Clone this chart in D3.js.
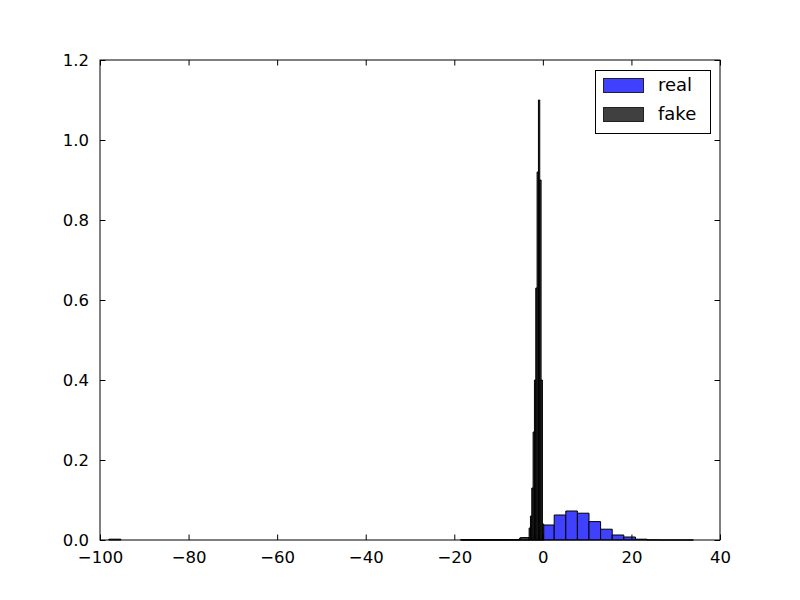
<!DOCTYPE html>
<html>
<head>
<meta charset="utf-8">
<script src="https://cdn.jsdelivr.net/npm/d3@7"></script>
<style>
  body { margin: 0; background: #ffffff; }
  svg { display: block; }
  text { font-family: "DejaVu Sans", sans-serif; }
</style>
</head>
<body>
<svg id="chart" width="800" height="600"></svg>
<script>
// ---- data ----
const xTicks = [-100, -80, -60, -40, -20, 0, 20, 40];
const yTicks = [0.0, 0.2, 0.4, 0.6, 0.8, 1.0, 1.2];

// "real" histogram: bin left edges, bin right edges, density
const realX0 = [-18.4, -15.78, -13.16, -10.54, -7.92, -5.3, -2.68, -0.06, 2.56, 5.18, 7.8, 10.42, 13.04, 15.66, 18.28, 20.9, 23.52, 26.14, 28.76, 31.38];
const realX1 = [-15.78, -13.16, -10.54, -7.92, -5.3, -2.68, -0.06, 2.56, 5.18, 7.8, 10.42, 13.04, 15.66, 18.28, 20.9, 23.52, 26.14, 28.76, 31.38, 34.0];
const realDensity = [0.0005, 0.0005, 0.0005, 0.0005, 0.0008, 0.004, 0.01, 0.0375, 0.0625, 0.0725, 0.067, 0.046, 0.027, 0.0125, 0.0075, 0.002, 0.0003, 0, 0, 0];

// "fake" histogram
const fakeX0 = [-98.0, -18.6, -15.9, -13.2, -10.5, -7.8, -5.1, -3.1, -2.8, -2.5, -2.2, -1.9, -1.6, -1.3, -1.0, -0.7, -0.4, -0.1];
const fakeX1 = [-95.3, -15.9, -13.2, -10.5, -7.8, -5.1, -3.1, -2.8, -2.5, -2.2, -1.9, -1.6, -1.3, -1.0, -0.7, -0.4, -0.1, 0.2];
const fakeDensity = [0.002, 0.0008, 0.0008, 0.0008, 0.0008, 0.001, 0.006, 0.03, 0.06, 0.13, 0.27, 0.40, 0.63, 0.92, 1.10, 0.90, 0.40, 0.04];

const seriesNames = ["real", "fake"];
const seriesColors = ["#4040ff", "#404040"];

// ---- layout ----
const svg = d3.select("#chart");
const L = 100, R = 720, T = 60, B = 540;
const fs = 16.5;

const x = d3.scaleLinear().domain([-100, 40]).range([L, R]);
const y = d3.scaleLinear().domain([0, 1.2]).range([B, T]);

const real = realX0.map((d, i) => ({x0: d, x1: realX1[i], v: realDensity[i]}));
const fake = fakeX0.map((d, i) => ({x0: d, x1: fakeX1[i], v: fakeDensity[i]}));

const plot = svg.append("g");
function barPath(d) {
  const p = d3.path();
  p.moveTo(x(d.x0), y(0));
  p.lineTo(x(d.x0), y(d.v));
  p.lineTo(x(d.x1), y(d.v));
  p.lineTo(x(d.x1), y(0));
  p.closePath();
  return p.toString();
}
function drawHist(data, fill) {
  plot.append("g").selectAll("path").data(data).join("path")
    .attr("d", barPath)
    .attr("fill", fill)
    .attr("stroke", "#000")
    .attr("stroke-width", 1);
}
drawHist(real, seriesColors[0]);
drawHist(fake, seriesColors[1]);

// axes (ticks inside, all four sides)
const tickLen = 5.5, pad = 5.5;
const gx = svg.append("g").attr("transform", `translate(0,${B})`)
  .call(d3.axisBottom(x).tickValues(xTicks).tickSizeInner(-tickLen).tickSizeOuter(0).tickPadding(pad + tickLen)
    .tickFormat(d => d3.format("d")(d).replace("-", "\u2212")));
const gxTop = svg.append("g").attr("transform", `translate(0,${T})`)
  .call(d3.axisTop(x).tickValues(xTicks).tickSizeInner(-tickLen).tickSizeOuter(0).tickFormat(""));
const gy = svg.append("g").attr("transform", `translate(${L},0)`)
  .call(d3.axisLeft(y).tickValues(yTicks).tickSizeInner(-tickLen).tickSizeOuter(0).tickPadding(pad + tickLen)
    .tickFormat(d3.format(".1f")));
const gyR = svg.append("g").attr("transform", `translate(${R},0)`)
  .call(d3.axisRight(y).tickValues(yTicks).tickSizeInner(-tickLen).tickSizeOuter(0).tickFormat(""));

[gx, gxTop, gy, gyR].forEach(g => {
  g.select(".domain").remove();
  g.selectAll("line").attr("stroke", "#000");
  g.selectAll("text").attr("font-size", fs).attr("fill", "#000").attr("font-family", "DejaVu Sans");
});

// frame
svg.append("rect").attr("x", L).attr("y", T).attr("width", R - L).attr("height", B - T)
  .attr("fill", "none").attr("stroke", "#000").attr("stroke-width", 1);

// legend
const lg = svg.append("g");
lg.append("rect").attr("x", 595.5).attr("y", 70.5).attr("width", 115).attr("height", 63)
  .attr("fill", "#fff").attr("stroke", "#000");
seriesNames.forEach((name, i) => {
  const yy = 78 + i * 29;
  lg.append("rect").attr("x", 603.5).attr("y", yy + 0.5).attr("width", 40).attr("height", 14)
    .attr("fill", seriesColors[i]).attr("stroke", "#000").attr("stroke-opacity", 0.8);
  lg.append("text").attr("x", 658).attr("y", yy + 13).attr("font-size", 18).text(name);
});
</script>
</body>
</html>
